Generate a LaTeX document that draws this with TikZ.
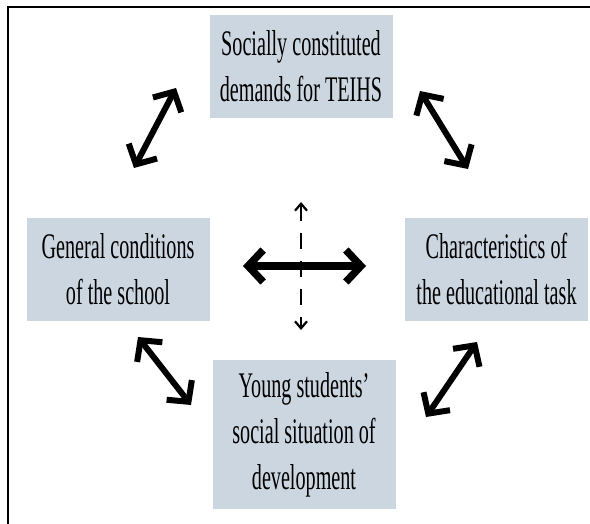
\documentclass[tikz,border=0pt]{standalone}
\usepackage{fontspec}
\setmainfont[FakeStretch=0.56]{Liberation Serif}
\usetikzlibrary{arrows.meta}

\definecolor{boxgray}{RGB}{204,214,224}

\begin{document}
\begin{tikzpicture}
[x=1pt,y=-1pt
,factor/.style={fill=boxgray,align=center,inner sep=0pt
  ,minimum width=183pt,minimum height=103pt
  ,font=\fontsize{36}{46}\selectfont}
,link/.style={line width=6pt,line cap=round
  ,arrows={Straight Barb[length=15pt,width=32pt]-Straight Barb[length=15pt,width=32pt]}}
,mainlink/.style={link,line width=7.5pt}
,weak/.style={line width=2.2pt,dash pattern=on 16pt off 12pt
  ,arrows={Straight Barb[length=7pt,width=12pt]-Straight Barb[length=7pt,width=12pt]}}]
\useasboundingbox (0,0) rectangle (590,524);
\draw[line width=2pt] (590,7) -- (8,7) -- (8,524);
% the four factors
\node[factor] (demands) at (301,66.5) {Socially constituted\\demands for TEIHS};
\node[factor] (school) at (118,269.5) {General conditions\\of the school};
\node[factor] (task) at (496.5,269.5) {Characteristics of\\the educational task};
\node[factor,minimum height=149pt] (students) at (304,434.5)
  {Young students'\\social situation of\\development};
% arrow ends
\coordinate (a1) at (134,168);
\coordinate (a2) at (176,88);
\coordinate (b1) at (420,91);
\coordinate (b2) at (468,169);
\coordinate (c1) at (138,337);
\coordinate (c2) at (191,405);
\coordinate (d1) at (477,342);
\coordinate (d2) at (426,417);
\coordinate (h1) at (243,266);
\coordinate (h2) at (366,266);
\coordinate (v1) at (301,202);
\coordinate (v2) at (301,330);
\draw[link] (a1) -- (a2);
\draw[link] (b1) -- (b2);
\draw[link] (c1) -- (c2);
\draw[link] (d1) -- (d2);
\draw[mainlink] (h1) -- (h2);
\draw[weak] (v1) -- (v2);
\end{tikzpicture}
\end{document}
